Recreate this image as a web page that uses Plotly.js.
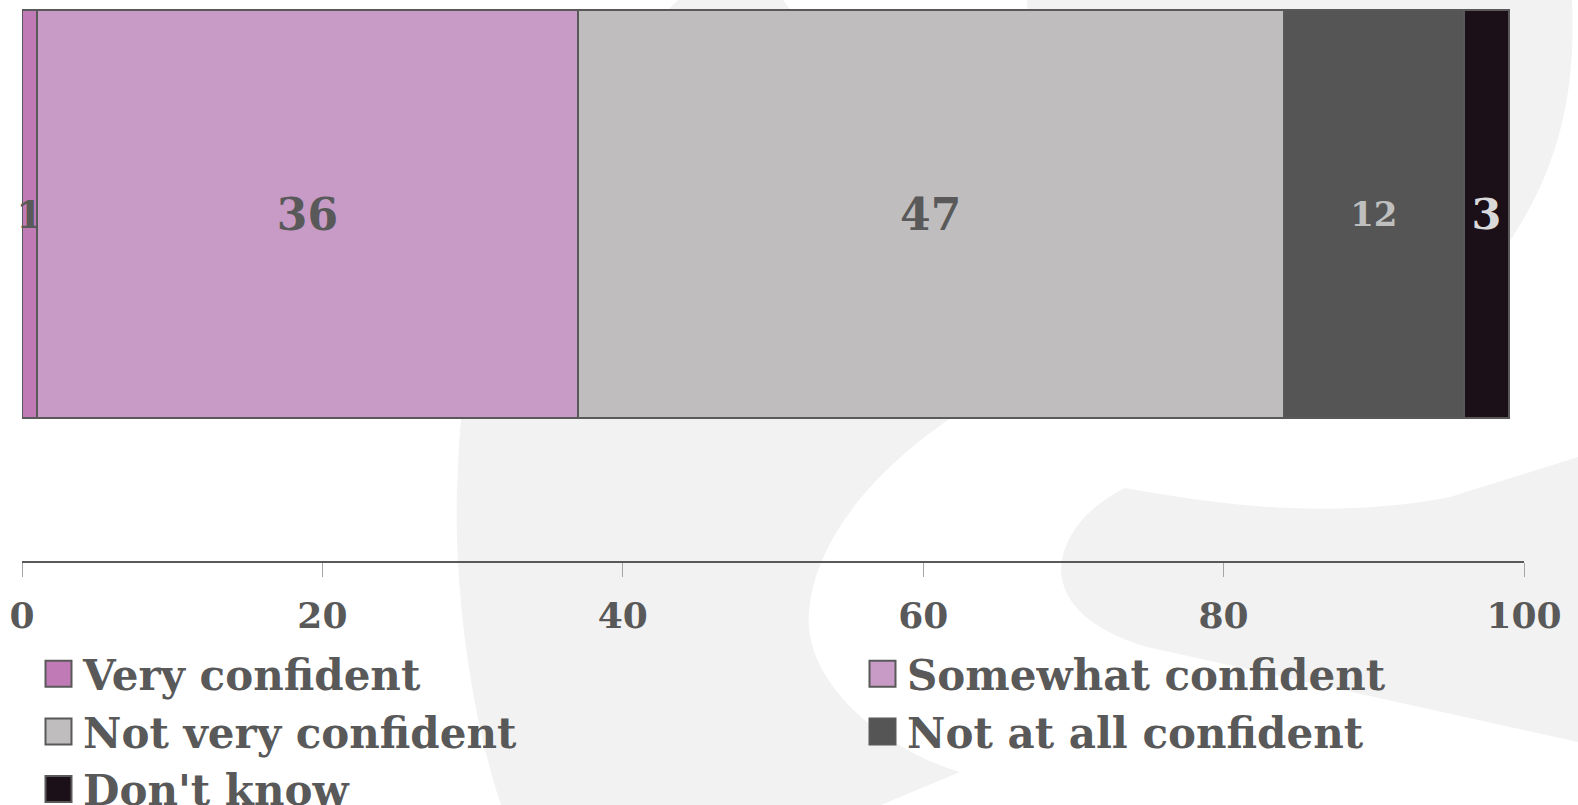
<!DOCTYPE html>
<html>
<head>
<meta charset="utf-8">
<script src="https://cdn.plot.ly/plotly-3.0.1.min.js"></script>
<style>
  html, body { margin: 0; padding: 0; background: #ffffff; }
  #chart { width: 1578px; height: 805px; }
</style>
</head>
<body>
<div id="chart"></div>
<script>
// ---- data ----
const question = ['Confidence'];
const categories = ['Very confident', 'Somewhat confident', 'Not very confident', 'Not at all confident', "Don't know"];
const values = [1, 36, 47, 12, 3];
const tickValues = [0, 20, 40, 60, 80, 100];
const tickLabels = ['0', '20', '40', '60', '80', '100'];

// ---- styles ----
const barColors = ['#C07BB6', '#C79BC6', '#BFBDBE', '#555555', '#1B0F18'];
const labelColors = ['#595959', '#595959', '#595959', '#BFBFBF', '#D9D9D9'];
const labelSizes = [38, 44, 44, 34, 43];
const legendColumn = ['legend', 'legend2', 'legend', 'legend2', 'legend'];
const FONT = 'DejaVu Serif, Liberation Serif, serif';

// layout geometry (pixels)
const W = 1578, H = 805;
const M = { l: 22, r: 54, t: 0, b: 244 };
const PW = W - M.l - M.r, PH = H - M.t - M.b;
function px(x) { return ((x - M.l) / PW).toFixed(5); }
function py(y) { return ((M.t + PH - y) / PH).toFixed(5); }
function pathFrom(cmds) {
  return cmds.map(c => typeof c === 'string' ? c : (px(c[0]) + ',' + py(c[1]))).join(' ');
}

// watermark background shapes (pixel outlines)
const wmCrescent = ['M', [678, 0], 'L', [783, 0],
  'C', [900, 150], [975, 330], [948, 420],
  'C', [890, 460], [815, 530], [809, 613],
  'C', [803, 680], [880, 748], [960, 772],
  'L', [881, 805], 'L', [501, 805],
  'C', [466, 700], [452, 560], [458, 470],
  'C', [462, 280], [560, 110], [678, 0], 'Z'];
const wmCircle = ['M', [1027, 0], 'L', [1572, 0],
  'C', [1576, 90], [1560, 160], [1517, 230],
  'C', [1440, 350], [1300, 400], [1150, 390],
  'C', [1060, 300], [1035, 150], [1027, 0], 'Z'];
const wmBand = ['M', [1125, 488],
  'C', [1220, 505], [1330, 520], [1450, 497],
  'L', [1578, 457], 'L', [1578, 742], 'L', [1147, 647],
  'C', [1095, 632], [1062, 605], [1061, 570],
  'C', [1062, 535], [1090, 505], [1125, 488], 'Z'];

const shapes = [wmCrescent, wmCircle, wmBand].map(p => ({
  type: 'path', xref: 'paper', yref: 'paper', layer: 'below',
  path: pathFrom(p), fillcolor: '#F2F2F2', line: { width: 0 }
}));

const traces = categories.map((name, i) => ({
  type: 'bar',
  orientation: 'h',
  name: name,
  legend: legendColumn[i],
  y: question,
  x: [values[i]],
  text: [String(values[i])],
  textposition: 'inside',
  insidetextanchor: 'middle',
  textangle: 0,
  constraintext: 'none',
  cliponaxis: false,
  textfont: { family: FONT, size: labelSizes[i], color: labelColors[i], weight: 'bold' },
  marker: { color: barColors[i], line: { color: '#595959', width: 2 } },
  hoverinfo: 'name+x'
}));

// bar occupies pixel rows 10..418 of a plot 561px tall; width 0.8 category units
const bw = 0.8;
const unit = (418 - 10) / bw;
const yTop = bw / 2 + 10 / unit;
const yBot = yTop - PH / unit;

const legendFont = { family: FONT, size: 42, color: '#595959', weight: 'bold' };
const legendTop = 640;
function legendAt(leftPx) {
  return {
    orientation: 'v',
    traceorder: 'normal',
    x: (leftPx - M.l) / PW, xanchor: 'left',
    y: (PH - legendTop) / PH, yanchor: 'top',
    itemwidth: 39,
    bgcolor: 'rgba(0,0,0,0)',
    borderwidth: 0,
    font: legendFont
  };
}

const layout = {
  width: W, height: H,
  margin: { l: M.l, r: M.r, t: M.t, b: M.b, autoexpand: false },
  paper_bgcolor: '#ffffff',
  plot_bgcolor: 'rgba(0,0,0,0)',
  barmode: 'stack',
  bargap: 1 - bw,
  showlegend: true,
  shapes: shapes,
  xaxis: {
    range: [0, 100],
    tickvals: tickValues,
    ticktext: tickLabels,
    showgrid: false, zeroline: false,
    showline: true, linecolor: '#595959', linewidth: 2,
    ticks: 'outside', ticklen: 14, tickwidth: 1, tickcolor: '#A6A6A6',
    ticklabelstandoff: 8,
    tickfont: { family: FONT, size: 36, color: '#595959', weight: 'bold' },
    fixedrange: true
  },
  yaxis: {
    type: 'category',
    range: [yBot, yTop],
    showgrid: false, zeroline: false, showline: false,
    showticklabels: false, ticks: '',
    fixedrange: true
  },
  legend: legendAt(34),
  legend2: legendAt(858)
};

Plotly.newPlot('chart', traces, layout, { displayModeBar: false, staticPlot: true }).then(function () {
  document.querySelectorAll('.legendpoints path').forEach(function (p) {
    p.setAttribute('d', 'M13,13H-13V-13H13Z');
  });
});
</script>
</body>
</html>
